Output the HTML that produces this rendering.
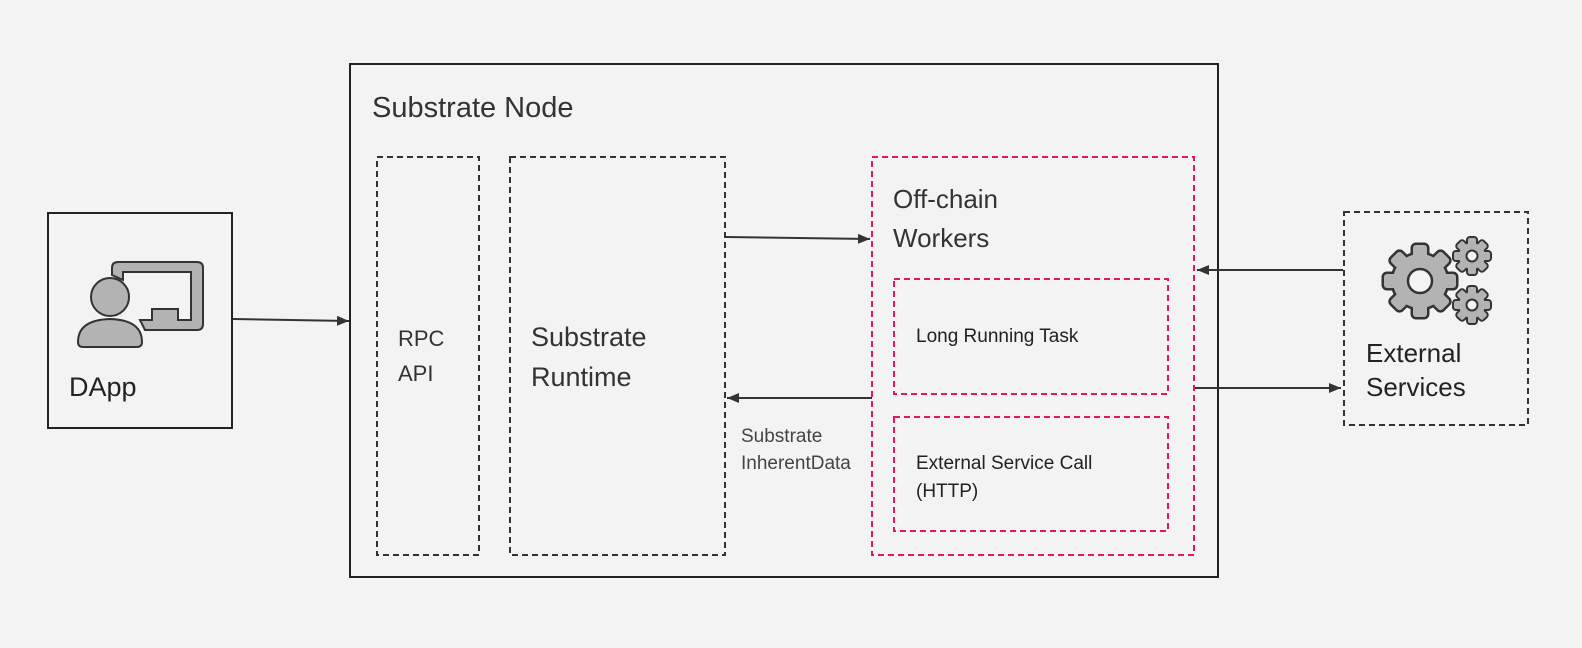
<!DOCTYPE html>
<html><head><style>
body{margin:0;background:#f2f3f2;}
svg{display:block;font-family:"Liberation Sans",sans-serif;}
</style></head><body>
<svg width="1582" height="648" viewBox="0 0 1582 648" xmlns="http://www.w3.org/2000/svg">
<defs>
<marker id="ah" markerWidth="12" markerHeight="10" refX="12" refY="5" orient="auto" markerUnits="userSpaceOnUse">
<path d="M0,0 L12,5 L0,10 z" fill="#333"/></marker>
<g id="gb">
<circle cx="0" cy="0" r="27"/>
<rect x="-7" y="-36" width="14" height="72" rx="3"/>
<rect x="-7" y="-36" width="14" height="72" rx="3" transform="rotate(45)"/>
<rect x="-7" y="-36" width="14" height="72" rx="3" transform="rotate(90)"/>
<rect x="-7" y="-36" width="14" height="72" rx="3" transform="rotate(135)"/>
</g>
<g id="gs">
<circle cx="0" cy="0" r="13"/>
<rect x="-4" y="-18" width="8" height="36" rx="2"/>
<rect x="-4" y="-18" width="8" height="36" rx="2" transform="rotate(45)"/>
<rect x="-4" y="-18" width="8" height="36" rx="2" transform="rotate(90)"/>
<rect x="-4" y="-18" width="8" height="36" rx="2" transform="rotate(135)"/>
</g>
</defs>
<rect width="1582" height="648" fill="#f2f3f2"/>
<!-- DApp -->
<rect x="48" y="213" width="184" height="215" fill="none" stroke="#222" stroke-width="2"/>
<path d="M112,275 L112,268 Q112,262 118,262 L197,262 Q203,262 203,268 L203,324 Q203,330 197,330 L145,330 L140,320 L152,320 L152,309 L178,309 L178,320 L191,320 L191,272 L123,272 L123,280 Z" fill="#b3b3b3" stroke="#333" stroke-width="2"/>
<circle cx="110" cy="297" r="19" fill="#b3b3b3" stroke="#333" stroke-width="2"/>
<path d="M78,342 Q78,320 110,319 Q142,320 142,342 Q142,347 137,347 L83,347 Q78,347 78,342 Z" fill="#b3b3b3" stroke="#333" stroke-width="2"/>
<text x="69" y="396" font-size="27" fill="#222">DApp</text>
<line x1="233" y1="319" x2="349" y2="321" stroke="#333" stroke-width="2" marker-end="url(#ah)"/>
<!-- Substrate node -->
<rect x="350" y="64" width="868" height="513" fill="none" stroke="#222" stroke-width="2"/>
<text x="372" y="117" font-size="29" fill="#333">Substrate Node</text>
<rect x="377" y="157" width="102" height="398" fill="none" stroke="#333" stroke-width="2" stroke-dasharray="6,4"/>
<text x="398" y="346" font-size="22" fill="#333">RPC</text>
<text x="398" y="381" font-size="22" fill="#333">API</text>
<rect x="510" y="157" width="215" height="398" fill="none" stroke="#333" stroke-width="2" stroke-dasharray="6,4"/>
<text x="531" y="346" font-size="27" fill="#333">Substrate</text>
<text x="531" y="386" font-size="27" fill="#333">Runtime</text>
<rect x="872" y="157" width="322" height="398" fill="none" stroke="#e8175d" stroke-width="2" stroke-dasharray="6,4"/>
<text x="893" y="208" font-size="26" fill="#333">Off-chain</text>
<text x="893" y="247" font-size="26" fill="#333">Workers</text>
<rect x="894" y="279" width="274" height="115" fill="none" stroke="#e8175d" stroke-width="2" stroke-dasharray="6,4"/>
<text x="916" y="342" font-size="19" fill="#222">Long Running Task</text>
<rect x="894" y="417" width="274" height="114" fill="none" stroke="#e8175d" stroke-width="2" stroke-dasharray="6,4"/>
<text x="916" y="469" font-size="19" fill="#222">External Service  Call</text>
<text x="916" y="497" font-size="19" fill="#222">(HTTP)</text>
<line x1="726" y1="237" x2="870" y2="239" stroke="#333" stroke-width="2" marker-end="url(#ah)"/>
<line x1="872" y1="398" x2="727" y2="398" stroke="#333" stroke-width="2" marker-end="url(#ah)"/>
<text x="741" y="442" font-size="19" fill="#444">Substrate</text>
<text x="741" y="469" font-size="19" fill="#444">InherentData</text>
<!-- External -->
<rect x="1344" y="212" width="184" height="213" fill="none" stroke="#333" stroke-width="2" stroke-dasharray="6,4"/>
<line x1="1343" y1="270" x2="1197" y2="270" stroke="#333" stroke-width="2" marker-end="url(#ah)"/>
<line x1="1195" y1="388" x2="1341" y2="388" stroke="#333" stroke-width="2" marker-end="url(#ah)"/>
<use href="#gb" x="1420" y="281" fill="#333" stroke="#333" stroke-width="5"/>
<use href="#gb" x="1420" y="281" fill="#b3b3b3"/>
<circle cx="1420" cy="281" r="12" fill="#f2f3f2" stroke="#333" stroke-width="2.5"/>
<use href="#gs" x="1472" y="256" fill="#333" stroke="#333" stroke-width="4"/>
<use href="#gs" x="1472" y="256" fill="#b3b3b3"/>
<circle cx="1472" cy="256" r="5.5" fill="#f2f3f2" stroke="#333" stroke-width="2"/>
<use href="#gs" x="1472" y="305" fill="#333" stroke="#333" stroke-width="4"/>
<use href="#gs" x="1472" y="305" fill="#b3b3b3"/>
<circle cx="1472" cy="305" r="5.5" fill="#f2f3f2" stroke="#333" stroke-width="2"/>
<text x="1366" y="362" font-size="26" fill="#222">External</text>
<text x="1366" y="396" font-size="26" fill="#222">Services</text>
</svg>
</body></html>
